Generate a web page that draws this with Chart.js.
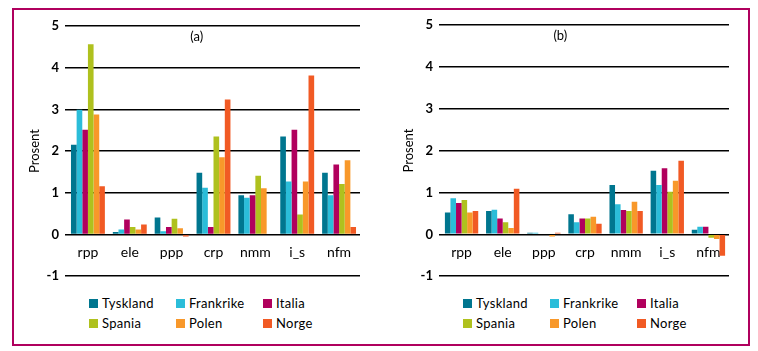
<!DOCTYPE html>
<html>
<head>
<meta charset="utf-8">
<script src="https://cdn.jsdelivr.net/npm/chart.js@4/dist/chart.umd.min.js"></script>
<style>
  body{margin:0;width:758px;height:351px;background:#fff;position:relative;overflow:hidden;font-family:Lato,"Noto Sans",sans-serif;}
  #frame{position:absolute;left:12px;top:8px;width:734px;height:334px;border:2px solid #b0005e;}
  .panel{position:absolute;top:0;height:290px;}
  .legend{position:absolute;display:grid;grid-template-columns:repeat(3,87px);grid-auto-rows:20px;font-size:13px;color:#000;letter-spacing:0.3px;}
  .legend div{display:flex;align-items:center;white-space:nowrap;}
  .legend span.box{display:inline-block;width:9px;height:9px;margin-right:4px;}
</style>
</head>
<body>
<div id="frame"></div>
<div class="panel" style="left:0;width:378px"><canvas id="chartA"></canvas></div>
<div class="panel" style="left:378px;width:380px"><canvas id="chartB"></canvas></div>
<div class="legend" id="legendA" style="left:89px;top:293px"></div>
<div class="legend" id="legendB" style="left:463px;top:293px"></div>
<script>
const categories = ['rpp','ele','ppp','crp','nmm','i_s','nfm'];
const countries = ['Tyskland','Frankrike','Italia','Spania','Polen','Norge'];
const colors = ['#00768f','#2bbdd9','#b1005d','#afc11e','#f8982a','#f15a24'];
const yTicks = [-1,0,1,2,3,4,5];

// panel (a)
const tysklandA  = [2.15, 0.06, 0.41, 1.48, 0.94, 2.35, 1.48];
const frankrikeA = [2.99, 0.12, 0.08, 1.12, 0.88, 1.27, 0.94];
const italiaA    = [2.51, 0.36, 0.18, 0.18, 0.94, 2.51, 1.68];
const spaniaA    = [4.56, 0.18, 0.38, 2.35, 1.41, 0.48, 1.21];
const polenA     = [2.88, 0.12, 0.15, 1.85, 1.11, 1.27, 1.78];
const norgeA     = [1.16, 0.24, -0.05, 3.24, 0.02, 3.81, 0.18];

// panel (b)
const tysklandB  = [0.52, 0.56, 0.04, 0.48, 1.18, 1.52, 0.11];
const frankrikeB = [0.86, 0.59, 0.04, 0.29, 0.72, 1.18, 0.18];
const italiaB    = [0.75, 0.38, 0.02, 0.38, 0.58, 1.58, 0.18];
const spaniaB    = [0.82, 0.29, 0.02, 0.38, 0.56, 1.02, -0.08];
const polenB     = [0.52, 0.15, -0.05, 0.42, 0.78, 1.28, -0.11];
const norgeB     = [0.56, 1.09, 0.04, 0.25, 0.56, 1.76, -0.51];

const seriesA = [tysklandA, frankrikeA, italiaA, spaniaA, polenA, norgeA];
const seriesB = [tysklandB, frankrikeB, italiaB, spaniaB, polenB, norgeB];

const FONT = 'Lato, "Noto Sans", sans-serif';

// draws the "(a)"/"(b)" label inside the plot
const panelLabel = {
  id: 'panelLabel',
  afterDraw(chart, args, opts){
    const {ctx, scales:{x, y}} = chart;
    ctx.save();
    ctx.font = '13px ' + FONT;
    ctx.fillStyle = '#000';
    ctx.textAlign = 'center';
    ctx.textBaseline = 'middle';
    ctx.fillText(opts.text, x.getPixelForValue(opts.at), y.getPixelForValue(4.75));
    ctx.restore();
  }
};

function makeChart(id, series, label, labelAt, pad){
  return new Chart(document.getElementById(id), {
    type: 'bar',
    data: {
      labels: categories,
      datasets: countries.map((c, i) => ({
        label: c, data: series[i], backgroundColor: colors[i], borderWidth: 0
      }))
    },
    options: {
      responsive: true,
      maintainAspectRatio: false,
      animation: false,
      layout: { padding: pad },
      datasets: { bar: { categoryPercentage: 0.81, barPercentage: 1.0 } },
      plugins: {
        legend: { display: false },
        tooltip: { enabled: false },
        panelLabel: { text: label, at: labelAt }
      },
      scales: {
        x: {
          position: { y: 0 },
          grid: { display: false },
          border: { display: false },
          ticks: { color: '#000', font: { family: FONT, size: 14 }, padding: 2 }
        },
        y: {
          min: -1, max: 5,
          afterFit(scale){ scale.width = 55; },
          afterBuildTicks(scale){ scale.ticks = yTicks.map(v => ({value: v})); },
          grid: { color: '#000', lineWidth: 1.5, tickLength: 2 },
          border: { display: false },
          ticks: { color: '#000', font: { family: FONT, size: 13, weight: 'bold' }, padding: 6 },
          title: { display: true, text: 'Prosent', color: '#000', font: { family: FONT, size: 13 }, padding: { top: 15, bottom: 0 } }
        }
      }
    },
    plugins: [panelLabel]
  });
}

makeChart('chartA', seriesA, '(a)', 2.6, { left: 12, right: 18, top: 26, bottom: 13 });
makeChart('chartB', seriesB, '(b)', 2.4, { left: 8, right: 29, top: 25, bottom: 12 });

function buildLegend(id){
  const box = document.getElementById(id);
  countries.forEach((c, i) => {
    const el = document.createElement('div');
    el.innerHTML = `<span class="box" style="background:${colors[i]}"></span>${c}`;
    box.appendChild(el);
  });
}
buildLegend('legendA');
buildLegend('legendB');
</script>
</body>
</html>
